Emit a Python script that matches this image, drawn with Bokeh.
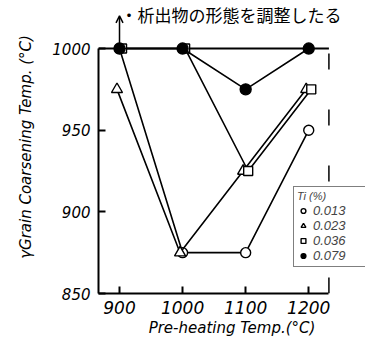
from bokeh.plotting import figure
from bokeh.models import (ColumnDataSource, Range1d, Legend, LegendItem,
                          Label, Arrow, OpenHead, FixedTicker)
from bokeh.transform import dodge
from bokeh.embed import file_html
from bokeh.resources import INLINE

# ---- data ----
preheat = [900, 1000, 1100, 1200]           # Pre-heating temp (°C)
ti_labels = ["0.013", "0.023", "0.036", "0.079"]
gc_0013 = [1000, 875, 875, 950]              # grain coarsening temp (°C)
gc_0023 = [975, 875, 925, 975]
gc_0036 = [1000, 1000, 925, 975]
gc_0079 = [1000, 1000, 975, 1000]
x_ticks = [900, 1000, 1100, 1200]
y_ticks = [850, 900, 950, 1000]
caption = "・析出物の形態を調整したる"
x_title = "Pre-heating Temp.(°C)"
y_title = "γGrain Coarsening Temp. (°C)"

# axis extents of the drawn box, and the wider visible area
X_LO, X_HI, X_VIEW = 866.7, 1232, 1290
Y_LO, Y_HI, Y_VIEW = 850, 1000, 1029.4

FONT = "DejaVu Sans"
LFONT = "Liberation Sans"

p = figure(frame_width=267, frame_height=293,
           x_range=Range1d(X_LO, X_VIEW), y_range=Range1d(Y_LO, Y_VIEW),
           output_backend="svg", toolbar_location=None,
           min_border_left=98, min_border_right=0, min_border_top=0, min_border_bottom=49)
p.grid.visible = False
p.outline_line_color = None
p.background_fill_color = "white"

for ax in (p.xaxis[0], p.yaxis[0]):
    ax.axis_line_width = 2
    ax.axis_line_color = "black"
    ax.major_tick_in = 7
    ax.major_tick_out = 0
    ax.major_tick_line_width = 2
    ax.minor_tick_line_color = None
    ax.major_label_text_font = FONT
    ax.major_label_text_font_style = "italic"
    ax.major_label_text_color = "black"
    ax.axis_label_text_font = FONT
    ax.axis_label_text_font_style = "italic"
    ax.axis_label_text_font_size = "15px"
    ax.axis_label_text_color = "black"

p.xaxis[0].major_label_text_font_size = "17px"
p.yaxis[0].major_label_text_font_size = "15px"
p.xaxis[0].ticker = FixedTicker(ticks=x_ticks)
p.yaxis[0].ticker = FixedTicker(ticks=y_ticks)
p.xaxis[0].bounds = (X_LO, X_HI)
p.yaxis[0].bounds = (Y_LO, Y_HI)
p.xaxis[0].major_label_standoff = 7
p.yaxis[0].major_label_standoff = 8
p.xaxis[0].axis_label = x_title
p.xaxis[0].axis_label_standoff = 2
p.yaxis[0].axis_label = y_title
p.yaxis[0].axis_label_standoff = 14

# top edge (solid) and right edge (broken, as in the scan) of the plot box
p.segment(x0=[X_LO], y0=[Y_HI], x1=[X_HI], y1=[Y_HI], line_color="black", line_width=2)
p.segment(x0=[X_HI], y0=[Y_LO], x1=[X_HI], y1=[Y_HI], line_color="black", line_width=1.5,
          line_dash="16 40")

src = ColumnDataSource(dict(x=preheat, a=gc_0013, b=gc_0023, c=gc_0036, d=gc_0079))

series = [
    ("a", 0, "circle", 10, "white"),
    ("b", -4, "triangle", 11, "white"),
    ("c", 4, "square", 9, "white"),
    ("d", 0, "circle", 11, "black"),
]
items = []
for (col, off, marker, size, fill), lab in zip(series, ti_labels):
    xx = dodge("x", off, range=p.x_range)
    p.line(x=xx, y=col, source=src, line_color="black", line_width=1.6)
    r = p.scatter(x=xx, y=col, source=src, marker=marker, size=size,
                  fill_color=fill, line_color="black", line_width=1.4)
    items.append(LegendItem(label=lab, renderers=[r]))

# ">1000" arrow above the 0.079 point at 900 °C
p.add_layout(Arrow(end=OpenHead(size=7, line_width=1.5, line_color="black"),
                   x_start=preheat[0], y_start=gc_0079[0], x_end=preheat[0], y_end=1020,
                   line_width=1.5, line_color="black"))

legend = Legend(items=items, location=(195, 26), title="Ti (%)",
                title_text_font=LFONT, title_text_font_style="italic", title_text_font_size="11px",
                label_text_font=LFONT, label_text_font_style="italic", label_text_font_size="13px",
                label_height=13, glyph_height=13, glyph_width=12, label_width=50,
                spacing=0, padding=3, margin=0, border_line_color="black",
                border_line_width=1.5, label_standoff=4, title_standoff=1,
                background_fill_alpha=1)
p.add_layout(legend, "center")

p.add_layout(Label(x=22, y=292, x_units="screen", y_units="screen",
                   text=caption, text_font="Noto Sans CJK JP", text_font_size="17px",
                   text_baseline="top", text_color="black"))

open("out.html", "w").write(file_html(p, INLINE))
